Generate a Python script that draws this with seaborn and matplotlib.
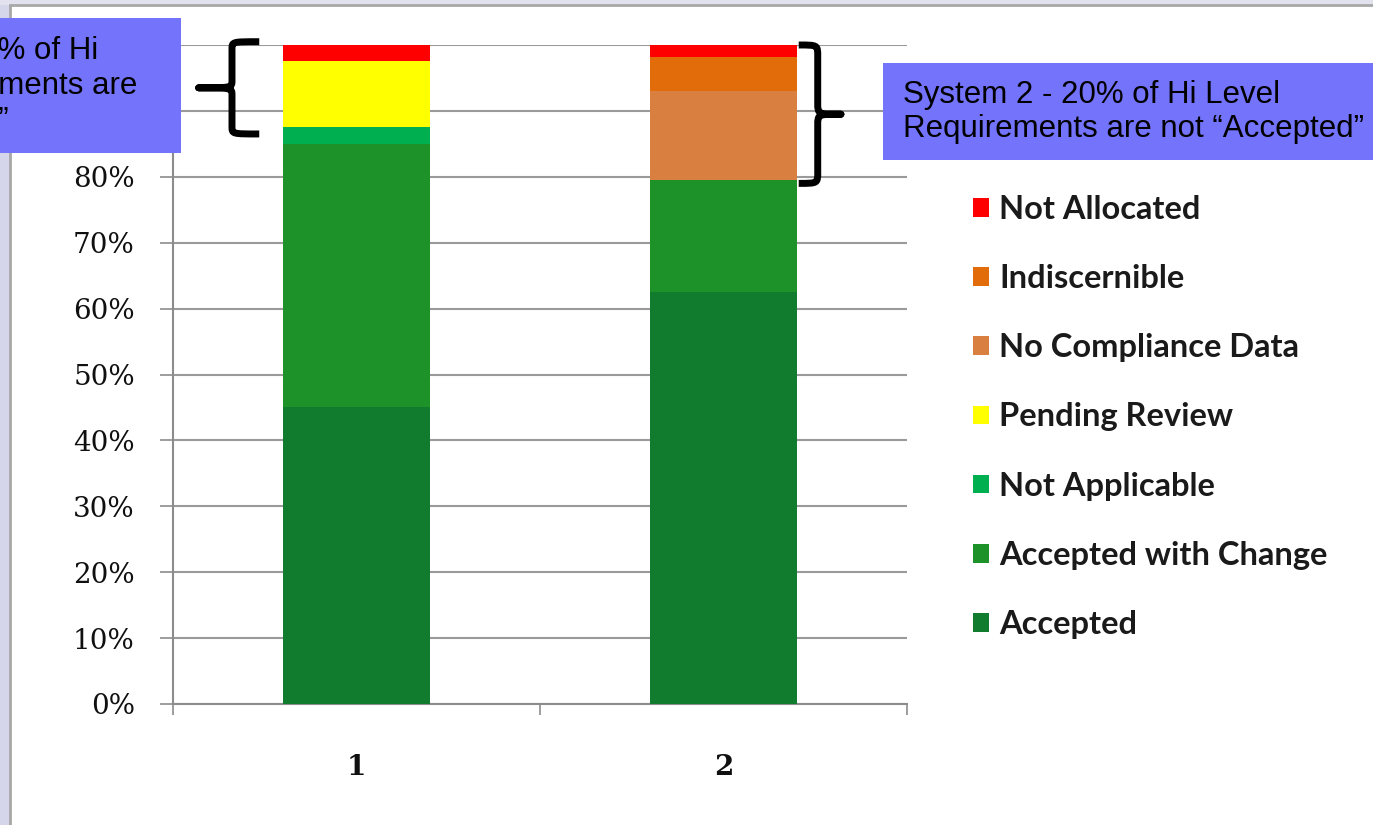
import numpy as np
import pandas as pd
import matplotlib
matplotlib.use("Agg")
import matplotlib.pyplot as plt
from matplotlib.patches import Rectangle, PathPatch
from matplotlib.path import Path
import seaborn as sns

# ---------------- data ----------------
systems = ["1", "2"]
statuses = ["Accepted", "Accepted with Change", "Not Applicable", "Pending Review",
            "No Compliance Data", "Indiscernible", "Not Allocated"]
accepted = [0.45, 0.625]
accepted_with_change = [0.40, 0.17]
not_applicable = [0.025, 0.0]
pending_review = [0.10, 0.0]
no_compliance_data = [0.0, 0.135]
indiscernible = [0.0, 0.052]
not_allocated = [0.025, 0.018]
yticks = [0, 0.1, 0.2, 0.3, 0.4, 0.5, 0.6, 0.7, 0.8, 0.9, 1.0]
# 90% and 100% labels are hidden behind the left note box in the reference
ytick_labels = ["0%", "10%", "20%", "30%", "40%", "50%", "60%", "70%", "80%", "", ""]
note_1 = "System 1 - 15% of Hi\nLevel Requirements are\nnot \u201cAccepted\u201d"
note_2 = "System 2 - 20% of Hi Level\nRequirements are not \u201cAccepted\u201d"

series = [accepted, accepted_with_change, not_applicable, pending_review,
          no_compliance_data, indiscernible, not_allocated]
colors = ["#127c2e", "#1d9229", "#00b050", "#ffff00", "#d98040", "#e36c0a", "#ff0000"]

# ---------------- figure ----------------
sns.set_theme(style="white")
plt.rcParams["font.family"] = ["DejaVu Serif", "DejaVu Sans"]

fig = plt.figure(figsize=(13.73, 8.25), dpi=100)
fig.patch.set_facecolor("white")
W, H = 1373.0, 825.0

# slide background strips + chart frame
fig.add_artist(Rectangle((0, 0), 10 / W, 1, transform=fig.transFigure,
                         facecolor="#d6d6ea", edgecolor="none", zorder=0))
fig.add_artist(Rectangle((0, 1 - 5 / H), 1, 5 / H, transform=fig.transFigure,
                         facecolor="#e2e2ee", edgecolor="none", zorder=0))
fig.add_artist(Rectangle((10 / W, -0.01), 1.0, 1 - 5 / H + 0.01, transform=fig.transFigure,
                         facecolor="none", edgecolor="#a8a8a8", lw=2, zorder=0))

ax = fig.add_axes([173 / W, 1 - 704 / H, (907 - 173) / W, (704 - 45) / H])
ax.set_facecolor("none")

bottom = np.zeros(len(systems))
handles = []
for name, vals, col in zip(statuses, series, colors):
    df = pd.DataFrame({"system": systems, "value": vals})
    sns.barplot(data=df, x="system", y="value", color=col, width=0.4,
                bottom=bottom, ax=ax, linewidth=0, saturation=1, zorder=3)
    handles.append(Rectangle((0, 0), 1, 1, facecolor=col, edgecolor="none", label=name))
    bottom = bottom + np.array(vals)

ax.set_xlim(-0.5, 1.5)
ax.set_ylim(0, 1.0)
ax.set_yticks(yticks)
ax.set_yticklabels(ytick_labels)
ax.set_xlabel("")
ax.set_ylabel("")

# grid & spines
ax.yaxis.grid(True, color="#9a9a9a", lw=1.5, zorder=0)
ax.set_axisbelow(True)
for s in ["top", "right"]:
    ax.spines[s].set_visible(False)
for s in ["left", "bottom"]:
    ax.spines[s].set_color("#8c8c8c")
    ax.spines[s].set_linewidth(1.5)

ax.tick_params(axis="y", which="major", direction="out", length=9.5, width=1.2,
               color="#8c8c8c", pad=18, labelsize=20, left=True)
ax.set_xticks([0, 1])
ax.set_xticks([-0.5, 0.5, 1.5], minor=True)
ax.tick_params(axis="x", which="major", length=0, pad=36, labelsize=20)
ax.tick_params(axis="x", which="minor", direction="out", length=8, width=1.2,
               color="#8c8c8c", bottom=True)
for lab in ax.get_xticklabels() + ax.get_yticklabels():
    lab.set_color("#101010")
for lab in ax.get_xticklabels():
    lab.set_fontweight("bold")

# legend (reverse order)
leg = fig.legend(handles=handles[::-1], labels=statuses[::-1],
                 loc="upper left", bbox_to_anchor=(960 / W, 1 - 182 / H),
                 frameon=False, prop={"family": "Lato", "size": 23.5, "weight": "bold"},
                 handlelength=0.5, handleheight=0.5, handletextpad=0.3,
                 labelspacing=1.23, borderaxespad=0)
for t in leg.get_texts():
    t.set_color("#1a1a1a")

# braces (spanning the non-accepted parts of each stack)
def brace(ax, x_back, x_tip, y_bot, y_top, lw=5):
    ym = (y_bot + y_top) / 2
    xm = x_back + (x_tip - x_back) * 0.45
    r = (y_top - y_bot) * 0.08
    verts = [
        (x_back, y_top),
        (xm, y_top), (xm, y_top), (xm, y_top - r),
        (xm, ym + r),
        (xm, ym), (xm, ym), (x_tip, ym),
        (xm, ym), (xm, ym), (xm, ym - r),
        (xm, y_bot + r),
        (xm, y_bot), (xm, y_bot), (x_back, y_bot),
    ]
    codes = [Path.MOVETO,
             Path.CURVE4, Path.CURVE4, Path.CURVE4,
             Path.LINETO,
             Path.CURVE4, Path.CURVE4, Path.CURVE4,
             Path.CURVE4, Path.CURVE4, Path.CURVE4,
             Path.LINETO,
             Path.CURVE4, Path.CURVE4, Path.CURVE4]
    p = PathPatch(Path(verts, codes), facecolor="none", edgecolor="black",
                  lw=lw, clip_on=False, zorder=5, capstyle="butt", joinstyle="round")
    ax.add_patch(p)

top1 = accepted[0] + accepted_with_change[0] + not_applicable[0]
top2 = accepted[1] + accepted_with_change[1]
brace(ax, -0.265, -0.43, top1 - 0.01, 1.0 + 0.005)
brace(ax, 1.205, 1.32, top2 - 0.005, 1.0)

# annotation boxes
box_col = "#7373fb"
fig.add_artist(Rectangle((-0.01, 1 - 153 / H), (181 / W) + 0.01, (153 - 18) / H,
                         transform=fig.transFigure, facecolor=box_col,
                         edgecolor="none", zorder=10))
fig.text(137 / W, 1 - 86 / H, note_1, ha="right", va="center", multialignment="left",
         fontsize=22.5, family="Liberation Sans", color="black", zorder=11,
         linespacing=1.2)
fig.add_artist(Rectangle((883 / W, 1 - 160 / H), 1.0, (160 - 63) / H,
                         transform=fig.transFigure, facecolor=box_col,
                         edgecolor="none", zorder=10))
fig.text(903 / W, 1 - 112 / H, note_2, ha="left", va="center",
         fontsize=22.5, family="Liberation Sans", color="black", zorder=11,
         linespacing=1.2)

fig.savefig("out.png", dpi=100, facecolor=fig.get_facecolor())
